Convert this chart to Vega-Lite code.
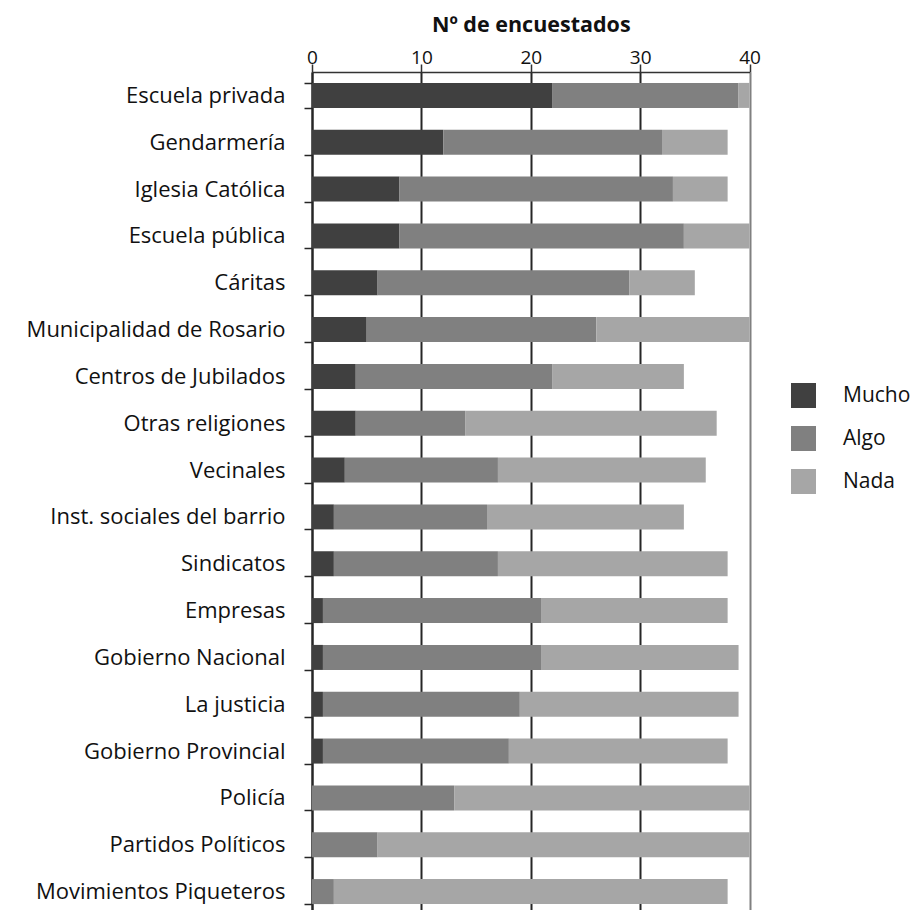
{
  "$schema": "https://vega.github.io/schema/vega-lite/v6.json",
  "autosize": {"type": "none"},
  "padding": {"left": 312, "top": 72, "right": 164.5, "bottom": 0},
  "width": 437.5,
  "height": 843,
  "background": "white",
  "data": {
    "values": [
      {"institucion": "Escuela privada", "nivel": "Mucho", "n": 22},
      {"institucion": "Escuela privada", "nivel": "Algo", "n": 17},
      {"institucion": "Escuela privada", "nivel": "Nada", "n": 1},
      {"institucion": "Gendarmería", "nivel": "Mucho", "n": 12},
      {"institucion": "Gendarmería", "nivel": "Algo", "n": 20},
      {"institucion": "Gendarmería", "nivel": "Nada", "n": 6},
      {"institucion": "Iglesia Católica", "nivel": "Mucho", "n": 8},
      {"institucion": "Iglesia Católica", "nivel": "Algo", "n": 25},
      {"institucion": "Iglesia Católica", "nivel": "Nada", "n": 5},
      {"institucion": "Escuela pública", "nivel": "Mucho", "n": 8},
      {"institucion": "Escuela pública", "nivel": "Algo", "n": 26},
      {"institucion": "Escuela pública", "nivel": "Nada", "n": 6},
      {"institucion": "Cáritas", "nivel": "Mucho", "n": 6},
      {"institucion": "Cáritas", "nivel": "Algo", "n": 23},
      {"institucion": "Cáritas", "nivel": "Nada", "n": 6},
      {"institucion": "Municipalidad de Rosario", "nivel": "Mucho", "n": 5},
      {"institucion": "Municipalidad de Rosario", "nivel": "Algo", "n": 21},
      {"institucion": "Municipalidad de Rosario", "nivel": "Nada", "n": 14},
      {"institucion": "Centros de Jubilados", "nivel": "Mucho", "n": 4},
      {"institucion": "Centros de Jubilados", "nivel": "Algo", "n": 18},
      {"institucion": "Centros de Jubilados", "nivel": "Nada", "n": 12},
      {"institucion": "Otras religiones", "nivel": "Mucho", "n": 4},
      {"institucion": "Otras religiones", "nivel": "Algo", "n": 10},
      {"institucion": "Otras religiones", "nivel": "Nada", "n": 23},
      {"institucion": "Vecinales", "nivel": "Mucho", "n": 3},
      {"institucion": "Vecinales", "nivel": "Algo", "n": 14},
      {"institucion": "Vecinales", "nivel": "Nada", "n": 19},
      {"institucion": "Inst. sociales del barrio", "nivel": "Mucho", "n": 2},
      {"institucion": "Inst. sociales del barrio", "nivel": "Algo", "n": 14},
      {"institucion": "Inst. sociales del barrio", "nivel": "Nada", "n": 18},
      {"institucion": "Sindicatos", "nivel": "Mucho", "n": 2},
      {"institucion": "Sindicatos", "nivel": "Algo", "n": 15},
      {"institucion": "Sindicatos", "nivel": "Nada", "n": 21},
      {"institucion": "Empresas", "nivel": "Mucho", "n": 1},
      {"institucion": "Empresas", "nivel": "Algo", "n": 20},
      {"institucion": "Empresas", "nivel": "Nada", "n": 17},
      {"institucion": "Gobierno Nacional", "nivel": "Mucho", "n": 1},
      {"institucion": "Gobierno Nacional", "nivel": "Algo", "n": 20},
      {"institucion": "Gobierno Nacional", "nivel": "Nada", "n": 18},
      {"institucion": "La justicia", "nivel": "Mucho", "n": 1},
      {"institucion": "La justicia", "nivel": "Algo", "n": 18},
      {"institucion": "La justicia", "nivel": "Nada", "n": 20},
      {"institucion": "Gobierno Provincial", "nivel": "Mucho", "n": 1},
      {"institucion": "Gobierno Provincial", "nivel": "Algo", "n": 17},
      {"institucion": "Gobierno Provincial", "nivel": "Nada", "n": 20},
      {"institucion": "Policía", "nivel": "Mucho", "n": 0},
      {"institucion": "Policía", "nivel": "Algo", "n": 13},
      {"institucion": "Policía", "nivel": "Nada", "n": 27},
      {"institucion": "Partidos Políticos", "nivel": "Mucho", "n": 0},
      {"institucion": "Partidos Políticos", "nivel": "Algo", "n": 6},
      {"institucion": "Partidos Políticos", "nivel": "Nada", "n": 34},
      {"institucion": "Movimientos Piqueteros", "nivel": "Mucho", "n": 0},
      {"institucion": "Movimientos Piqueteros", "nivel": "Algo", "n": 2},
      {"institucion": "Movimientos Piqueteros", "nivel": "Nada", "n": 36}
    ]
  },
  "transform": [
    {"calculate": "indexof(['Mucho', 'Algo', 'Nada'], datum.nivel)", "as": "orden"}
  ],
  "mark": {"type": "bar"},
  "encoding": {
    "y": {
      "field": "institucion",
      "type": "nominal",
      "sort": null,
      "scale": {"paddingInner": 0.466, "paddingOuter": 0.233},
      "axis": {
        "title": null,
        "tickBand": "extent",
        "domainColor": "#262626",
        "domainWidth": 2,
        "tickColor": "#262626",
        "tickWidth": 1.5,
        "tickSize": 8,
        "labelPadding": 19,
        "labelFont": "Open Sans",
        "labelFontSize": 22,
        "labelColor": "#111111",
        "labelLimit": 400
      }
    },
    "x": {
      "field": "n",
      "type": "quantitative",
      "stack": "zero",
      "scale": {"domain": [0, 40], "nice": false},
      "axis": {
        "orient": "top",
        "values": [0, 10, 20, 30, 40],
        "title": "Nº de encuestados",
        "titleFont": "Open Sans",
        "titleFontSize": 21.5,
        "titleFontWeight": "bold",
        "titleColor": "#111111",
        "titlePadding": 12,
        "labelFont": "Open Sans",
        "labelFontSize": 19,
        "labelColor": "#111111",
        "labelPadding": -3,
        "labelFlush": false,
        "domainColor": "#333333",
        "domainWidth": 1.5,
        "tickColor": "#333333",
        "tickWidth": 1.5,
        "tickSize": 8,
        "grid": true,
        "gridColor": {"condition": {"test": "datum.value == 40", "value": "#808080"}, "value": "#262626"},
        "gridWidth": 2,
        "gridOpacity": 1
      }
    },
    "color": {
      "field": "nivel",
      "type": "nominal",
      "sort": ["Mucho", "Algo", "Nada"],
      "scale": {"domain": ["Mucho", "Algo", "Nada"], "range": ["#404040", "#808080", "#a6a6a6"]},
      "legend": {
        "title": null,
        "orient": "none",
        "legendX": 479,
        "legendY": 311,
        "padding": 0,
        "symbolType": "square",
        "symbolSize": 625,
        "symbolStrokeWidth": 0,
        "symbolOpacity": 1,
        "labelFont": "Open Sans",
        "labelFontSize": 21,
        "labelColor": "#111111",
        "labelOffset": 27,
        "rowPadding": 18,
        "encode": {
          "symbols": {
            "update": {
              "fill": {"signal": "datum.value === 'Nada' ? '#bfbfbf' : scale('color', datum.value)"}
            }
          }
        }
      }
    },
    "order": {"field": "orden", "type": "quantitative", "sort": "ascending"}
  },
  "config": {
    "view": {"stroke": null},
    "bar": {"strokeWidth": 0}
  }
}
